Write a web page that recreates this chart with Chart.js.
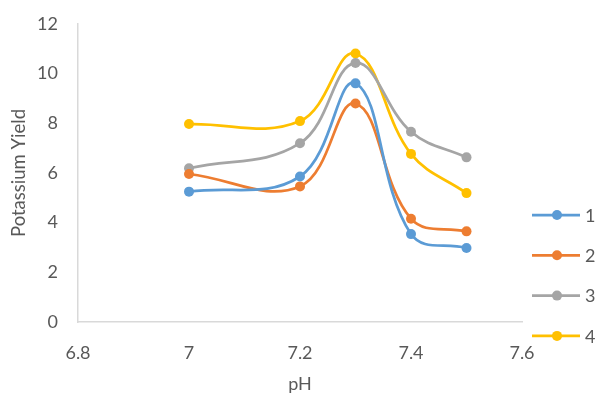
<!DOCTYPE html>
<html>
<head>
<meta charset="utf-8">
<script src="https://cdn.jsdelivr.net/npm/chart.js@4.4.1/dist/chart.umd.min.js"></script>
<style>
  html, body { margin: 0; padding: 0; background: #fff; }
  #wrap { width: 595px; height: 397px; position: relative; }
</style>
</head>
<body>
<div id="wrap"><canvas id="chart"></canvas></div>
<script>
// pH values (x) and potassium yield per series
const phValues = [7, 7.2, 7.3, 7.4, 7.5];
const series1 = [5.25, 5.86, 9.61, 3.54, 2.98];
const series2 = [5.96, 5.46, 8.80, 4.16, 3.65];
const series3 = [6.19, 7.20, 10.43, 7.66, 6.63];
const series4 = [7.97, 8.09, 10.81, 6.77, 5.19];
const seriesNames = ['1', '2', '3', '4'];
const seriesColors = ['#5B9BD5', '#ED7D31', '#A5A5A5', '#FFC000'];

const FONT = 'Lato, "Open Sans", sans-serif';
const TEXT = '#595959';
const AXIS = '#D9D9D9';

const allSeries = [series1, series2, series3, series4];

const datasets = allSeries.map((vals, i) => ({
    label: seriesNames[i],
    data: vals.map((v, j) => ({ x: phValues[j], y: v })),
    borderColor: seriesColors[i],
    backgroundColor: seriesColors[i],
    pointBackgroundColor: seriesColors[i],
    pointBorderColor: seriesColors[i],
    borderWidth: 2.75,
    pointRadius: 5,
    pointBorderWidth: 0,
    tension: 0.4,
    showLine: true,
    fill: false
}));

// excel-style legend on the right: short line with a marker, then the name
const sideLegend = {
    id: 'sideLegend',
    afterDraw(chart) {
        const ctx = chart.ctx;
        const x0 = chart.chartArea.right + 10;
        ctx.save();
        chart.data.datasets.forEach((ds, i) => {
            const y = 215 + i * 40.3;
            ctx.strokeStyle = ds.borderColor;
            ctx.lineWidth = 2.75;
            ctx.beginPath();
            ctx.moveTo(x0, y);
            ctx.lineTo(x0 + 48, y);
            ctx.stroke();
            ctx.fillStyle = ds.borderColor;
            ctx.beginPath();
            ctx.arc(x0 + 25, y, 5, 0, Math.PI * 2);
            ctx.fill();
            ctx.fillStyle = TEXT;
            ctx.font = '18px ' + FONT;
            ctx.textBaseline = 'middle';
            ctx.textAlign = 'left';
            ctx.fillText(ds.label, x0 + 53, y + 1);
        });
        ctx.restore();
    }
};

new Chart(document.getElementById('chart'), {
    type: 'scatter',
    data: { datasets },
    options: {
        responsive: true,
        maintainAspectRatio: false,
        animation: false,
        layout: { padding: { top: 24, right: 73, left: 0, bottom: 0 } },
        plugins: {
            legend: { display: false },
            tooltip: { enabled: false }
        },
        scales: {
            x: {
                type: 'linear',
                min: 6.8,
                max: 7.6,
                ticks: {
                    stepSize: 0.2, color: TEXT, font: { family: FONT, size: 18 }, padding: 20,
                    callback: (v) => String(+v.toFixed(1))
                },
                grid: { display: false, drawTicks: false },
                border: { display: true, color: AXIS, width: 1.5 },
                title: { display: true, text: 'pH', color: TEXT, font: { family: FONT, size: 18 }, padding: { top: 0, bottom: 2 } },
                afterFit: (s) => { s.height = 75; s.paddingLeft = 0; s.paddingRight = 0; }
            },
            y: {
                min: 0,
                max: 12,
                ticks: { stepSize: 2, color: TEXT, font: { family: FONT, size: 18 }, padding: 20 },
                grid: { display: false, drawTicks: false },
                border: { display: true, color: AXIS, width: 1.5 },
                title: { display: true, text: 'Potassium Yield', color: TEXT, font: { family: FONT, size: 18.5 }, padding: { top: 8, bottom: 0 } },
                afterFit: (s) => { s.width = 78; s.paddingTop = 0; s.paddingBottom = 0; }
            }
        }
    },
    plugins: [sideLegend]
});
</script>
</body>
</html>
